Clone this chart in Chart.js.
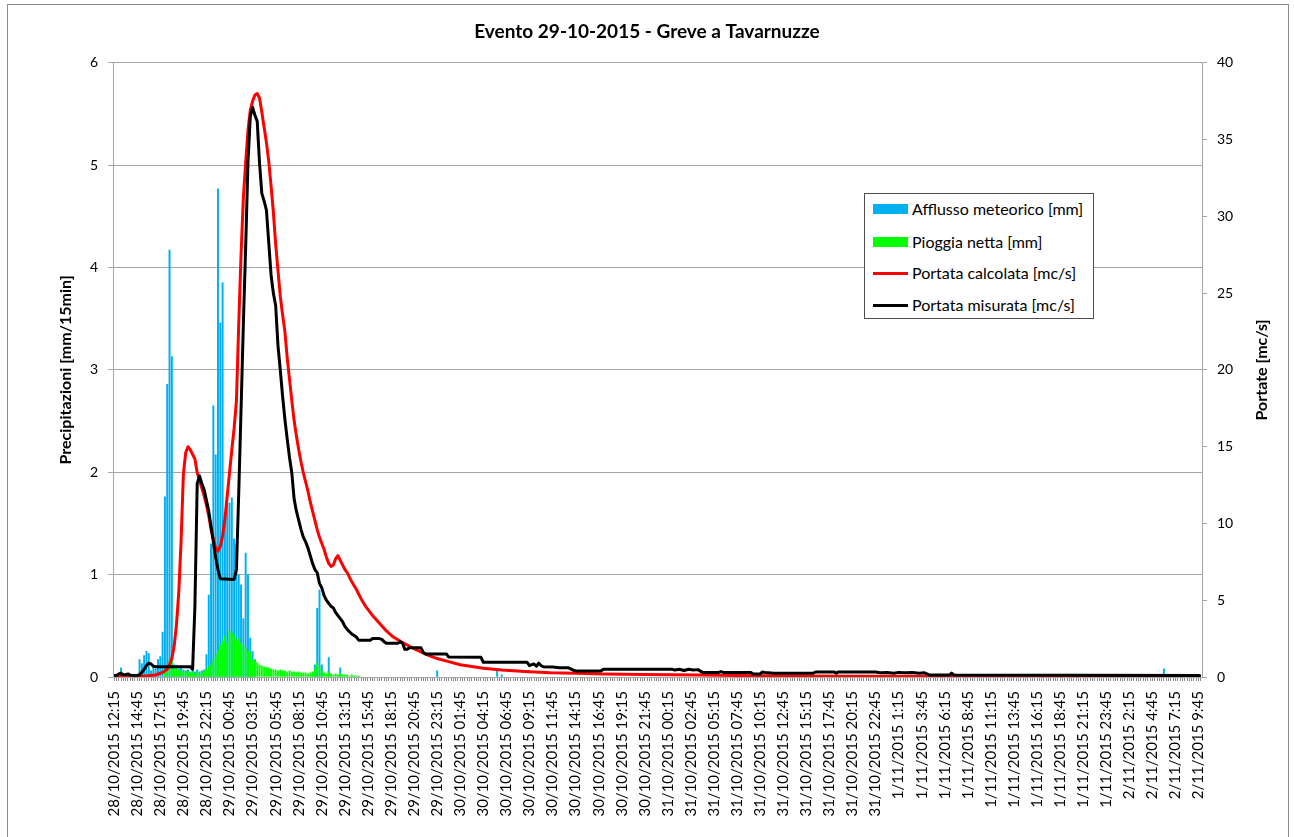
<!DOCTYPE html>
<html>
<head>
<meta charset="utf-8">
<title>Evento 29-10-2015 - Greve a Tavarnuzze</title>
<script src="https://cdn.jsdelivr.net/npm/chart.js@4.4.1/dist/chart.umd.min.js"></script>
<style>
  html, body { margin: 0; padding: 0; background: #fff; }
  body { width: 1294px; height: 837px; position: relative; overflow: hidden; font-family: Lato, 'Open Sans', sans-serif; }
  #frame { position: absolute; left: 7px; top: 4px; width: 1280px; height: 900px; border: 1px solid #8c8c8c; }
  #wrap { position: absolute; left: 0; top: 0; width: 1294px; height: 837px; }
  #legend { position: absolute; left: 864px; top: 193px; width: 228px; height: 124px; border: 1px solid #4d4d4d; background: #fff; }
  .row { position: absolute; left: 0; height: 20px; font-size: 16px; line-height: 20px; color: #000; white-space: nowrap; }
  .row .sw { position: absolute; left: 8px; width: 35px; }
  .row .tx { position: absolute; left: 47px; top: 0; }
</style>
</head>
<body>
<div id="frame"></div>
<div id="wrap"><canvas id="chart" width="1294" height="837"></canvas></div>
<div id="legend">
  <div class="row" style="top:5px"><span class="sw" style="top:5px;height:10px;background:#00b0f0"></span><span class="tx">Afflusso meteorico [mm]</span></div>
  <div class="row" style="top:38px"><span class="sw" style="top:5px;height:10px;background:#00ff00"></span><span class="tx">Pioggia netta [mm]</span></div>
  <div class="row" style="top:69px"><span class="sw" style="top:9px;height:3px;background:#ff0000"></span><span class="tx">Portata calcolata [mc/s]</span></div>
  <div class="row" style="top:101px"><span class="sw" style="top:9px;height:3px;background:#000"></span><span class="tx">Portata misurata [mc/s]</span></div>
</div>
<script>
// 15 minute steps starting 28/10/2015 12:15, one label every 10 steps
var nSteps = 472
var tickLabels = ['28/10/2015 12:15', '28/10/2015 14:45', '28/10/2015 17:15', '28/10/2015 19:45', '28/10/2015 22:15',
  '29/10/2015 00:45', '29/10/2015 03:15', '29/10/2015 05:45', '29/10/2015 08:15', '29/10/2015 10:45', '29/10/2015 13:15',
  '29/10/2015 15:45', '29/10/2015 18:15', '29/10/2015 20:45', '29/10/2015 23:15', '30/10/2015 01:45', '30/10/2015 04:15',
  '30/10/2015 06:45', '30/10/2015 09:15', '30/10/2015 11:45', '30/10/2015 14:15', '30/10/2015 16:45', '30/10/2015 19:15',
  '30/10/2015 21:45', '31/10/2015 00:15', '31/10/2015 02:45', '31/10/2015 05:15', '31/10/2015 07:45', '31/10/2015 10:15',
  '31/10/2015 12:45', '31/10/2015 15:15', '31/10/2015 17:45', '31/10/2015 20:15', '31/10/2015 22:45', '1/11/2015 1:15',
  '1/11/2015 3:45', '1/11/2015 6:15', '1/11/2015 8:45', '1/11/2015 11:15', '1/11/2015 13:45', '1/11/2015 16:15',
  '1/11/2015 18:45', '1/11/2015 21:15', '1/11/2015 23:45', '2/11/2015 2:15', '2/11/2015 4:45', '2/11/2015 7:15',
  '2/11/2015 9:45']
var leftTicks = [0, 1, 2, 3, 4, 5, 6]
var rightTicks = [0, 5, 10, 15, 20, 25, 30, 35, 40]

// [step, mm] only steps with rain
var afflusso = [[3, 0.09], [11, 0.17], [12, 0.13], [13, 0.21], [14, 0.25], [15, 0.23], [16, 0.06], [17, 0.12], [18, 0.08],
  [19, 0.17], [20, 0.2], [21, 0.44], [22, 1.76], [23, 2.86], [24, 4.17], [25, 3.13], [26, 0.12], [27, 0.1], [28, 0.08],
  [29, 0.1], [30, 0.07], [31, 0.06], [32, 0.07], [33, 0.05], [34, 0.06], [35, 0.05], [36, 0.07], [37, 0.05], [38, 0.06],
  [39, 0.07], [40, 0.22], [41, 0.8], [42, 1.3], [43, 2.65], [44, 2.17], [45, 4.77], [46, 3.46], [47, 3.85], [48, 1.5],
  [49, 1.8], [50, 1.7], [51, 1.75], [52, 1.35], [53, 1.3], [54, 1.0], [55, 0.9], [56, 0.57], [57, 1.21], [58, 1.0],
  [59, 0.38], [60, 0.25], [61, 0.17], [87, 0.12], [88, 0.67], [89, 0.85], [90, 0.12], [93, 0.19], [98, 0.09],
  [140, 0.06], [166, 0.06], [168, 0.02], [455, 0.08]]
var pioggiaNetta = [[22, 0.05], [23, 0.1], [24, 0.17], [25, 0.15], [26, 0.1], [27, 0.08], [28, 0.07], [29, 0.06], [30, 0.05],
  [31, 0.06], [32, 0.05], [33, 0.04], [34, 0.05], [35, 0.03], [36, 0.05], [37, 0.03], [38, 0.04], [39, 0.06], [40, 0.08],
  [41, 0.1], [42, 0.12], [43, 0.17], [44, 0.22], [45, 0.26], [46, 0.31], [47, 0.35], [48, 0.4], [49, 0.33], [50, 0.45],
  [51, 0.43], [52, 0.41], [53, 0.36], [54, 0.38], [55, 0.33], [56, 0.31], [57, 0.28], [58, 0.25], [59, 0.24], [60, 0.17],
  [61, 0.16], [62, 0.14], [63, 0.12], [64, 0.11], [65, 0.1], [66, 0.095], [67, 0.09], [68, 0.08], [69, 0.07], [70, 0.07],
  [71, 0.06], [72, 0.07], [73, 0.06], [74, 0.06], [75, 0.05], [76, 0.06], [77, 0.05], [78, 0.05], [79, 0.04], [80, 0.05],
  [81, 0.04], [82, 0.04], [83, 0.04], [84, 0.03], [85, 0.04], [86, 0.05], [87, 0.08], [88, 0.14], [89, 0.1], [90, 0.06],
  [91, 0.04], [92, 0.03], [93, 0.05], [94, 0.03], [95, 0.02], [96, 0.03], [97, 0.02], [98, 0.03], [99, 0.02], [100, 0.02],
  [101, 0.02], [102, 0.01], [103, 0.02], [104, 0.01], [105, 0.01], [106, 0.01]]

// [step, mc/s]
var portataCalcolata = [[0, 0.05], [12, 0.05], [18, 0.13], [21, 0.3], [23, 0.5], [24, 0.8], [25, 1.2], [26, 2.0], [27, 3.4],
  [28, 5.5], [29, 8.8], [30, 13.2], [31, 14.6], [32, 15.0], [33, 14.8], [34, 14.5], [35, 14.2], [36, 13.3], [37, 12.8],
  [38, 12.3], [39, 11.8], [40, 11.2], [41, 10.5], [42, 9.6], [43, 9.0], [44, 8.4], [45, 8.2], [46, 8.5], [47, 9.2],
  [48, 10.3], [49, 11.8], [50, 13.3], [51, 14.8], [52, 16.2], [53, 18.0], [54, 23.0], [55, 27.5], [56, 31.2], [57, 33.5],
  [58, 35.6], [59, 36.9], [60, 37.5], [61, 37.9], [62, 38.0], [63, 37.7], [64, 36.8], [65, 35.8], [66, 34.8], [67, 33.6],
  [68, 32.0], [69, 30.3], [70, 28.2], [71, 26.5], [72, 24.8], [73, 23.6], [74, 22.5], [75, 20.8], [76, 19.4], [77, 18.0],
  [78, 16.7], [79, 15.7], [80, 14.8], [81, 14.0], [82, 13.3], [83, 12.7], [84, 12.1], [85, 11.4], [86, 10.8], [87, 10.2],
  [88, 9.6], [89, 9.1], [90, 8.7], [91, 8.3], [92, 7.8], [93, 7.4], [94, 7.2], [95, 7.3], [96, 7.7], [97, 7.9], [98, 7.6],
  [99, 7.3], [100, 7.0], [101, 6.8], [103, 6.2], [105, 5.7], [107, 5.1], [109, 4.6], [112, 4.0], [115, 3.5], [118, 3.0],
  [121, 2.6], [125, 2.25], [128, 2.0], [132, 1.7], [136, 1.43], [140, 1.2], [145, 1.0], [150, 0.8], [155, 0.68],
  [160, 0.57], [168, 0.46], [178, 0.36], [189, 0.28], [200, 0.24], [212, 0.2], [230, 0.16], [254, 0.13], [270, 0.1],
  [290, 0.07], [330, 0.05], [400, 0.04], [471, 0.03]]
var portataMisurata = [[0, 0.1], [1, 0.1], [2, 0.2], [3, 0.25], [4, 0.15], [5, 0.15], [6, 0.2], [7, 0.12], [8, 0.1], [10, 0.1],
  [11, 0.15], [12, 0.3], [13, 0.5], [14, 0.75], [15, 0.9], [16, 0.85], [17, 0.7], [18, 0.67], [33, 0.67], [34, 0.5],
  [35, 4.6], [36, 12.6], [37, 13.1], [38, 12.6], [39, 12.2], [40, 11.5], [41, 10.8], [42, 9.8], [43, 8.8], [44, 7.8],
  [45, 7.0], [46, 6.4], [52, 6.35], [53, 7.0], [54, 12.0], [55, 17.4], [56, 23.0], [57, 28.0], [58, 33.5], [59, 36.5],
  [60, 37.1], [61, 36.6], [62, 36.2], [63, 33.5], [64, 31.5], [65, 31.0], [66, 30.4], [67, 28.3], [68, 26.2], [69, 25.0],
  [70, 24.2], [71, 21.6], [72, 20.0], [73, 18.3], [74, 16.8], [75, 15.5], [76, 14.3], [77, 13.3], [78, 11.6], [79, 10.8],
  [80, 10.2], [81, 9.6], [82, 9.1], [83, 8.8], [84, 8.4], [85, 7.9], [86, 7.4], [87, 7.0], [88, 6.8], [89, 6.1], [90, 5.8],
  [91, 5.3], [92, 5.0], [93, 4.8], [94, 4.6], [95, 4.5], [96, 4.2], [97, 4.0], [98, 3.8], [99, 3.6], [100, 3.3], [101, 3.1],
  [102, 2.95], [103, 2.8], [104, 2.7], [105, 2.6], [106, 2.4], [111, 2.4], [112, 2.5], [115, 2.5], [116, 2.45], [117, 2.3],
  [118, 2.2], [123, 2.2], [124, 2.3], [125, 2.2], [126, 1.8], [127, 1.8], [128, 1.9], [133, 1.9], [134, 1.6], [135, 1.5],
  [144, 1.5], [145, 1.3], [159, 1.28], [160, 0.96], [179, 0.96], [180, 0.74], [181, 0.8], [182, 0.85], [183, 0.7],
  [184, 0.9], [185, 0.75], [186, 0.67], [190, 0.65], [193, 0.6], [197, 0.6], [199, 0.45], [200, 0.39], [211, 0.39],
  [212, 0.5], [242, 0.5], [243, 0.45], [245, 0.5], [247, 0.42], [249, 0.5], [251, 0.45], [253, 0.48], [255, 0.3],
  [262, 0.3], [263, 0.35], [264, 0.3], [276, 0.3], [277, 0.2], [280, 0.2], [281, 0.33], [282, 0.3], [286, 0.24],
  [303, 0.24], [304, 0.33], [312, 0.33], [313, 0.25], [314, 0.33], [330, 0.33], [332, 0.28], [335, 0.3], [338, 0.25],
  [340, 0.3], [343, 0.28], [346, 0.3], [349, 0.25], [351, 0.28], [353, 0.15], [354, 0.13], [362, 0.13], [363, 0.25],
  [364, 0.13], [470, 0.1], [471, 0.05]]

function toPoints (pairs) {
  return pairs.map(function (p) { return { x: p[0], y: p[1] } })
}

var gridGrey = '#a6a6a6'
var tickFont = { family: 'Lato', size: 14 }

var rightTitle = {
  id: 'rightTitle',
  afterDraw: function (chart) {
    var c = chart.ctx
    var a = chart.chartArea
    c.save()
    c.translate(1262, (a.top + a.bottom) / 2)
    c.rotate(-Math.PI / 2)
    c.font = 'bold 16px Lato'
    c.fillStyle = '#000'
    c.textAlign = 'center'
    c.textBaseline = 'middle'
    c.fillText('Portate [mc/s]', 0, 0)
    c.restore()
  }
}

var chart = new Chart(document.getElementById('chart'), {
  type: 'bar',
  data: {
    datasets: [
      { type: 'line', label: 'Portata misurata [mc/s]', data: toPoints(portataMisurata), yAxisID: 'y2',
        borderColor: '#000000', borderWidth: 3, pointRadius: 0, borderJoinStyle: 'round', order: 0 },
      { type: 'line', label: 'Portata calcolata [mc/s]', data: toPoints(portataCalcolata), yAxisID: 'y2',
        borderColor: '#ff0000', borderWidth: 3, pointRadius: 0, borderJoinStyle: 'round', order: 1 },
      { label: 'Pioggia netta [mm]', data: toPoints(pioggiaNetta), yAxisID: 'y',
        backgroundColor: '#00ff00', barThickness: 1.3, grouped: false, order: 2 },
      { label: 'Afflusso meteorico [mm]', data: toPoints(afflusso), yAxisID: 'y',
        backgroundColor: '#00b0f0', barThickness: 1.3, grouped: false, order: 3 }
    ]
  },
  options: {
    responsive: false,
    animation: false,
    layout: { padding: 0 },
    plugins: {
      legend: { display: false },
      tooltip: { enabled: false },
      title: {
        display: true,
        text: 'Evento 29-10-2015 - Greve a Tavarnuzze',
        color: '#000',
        font: { family: 'Lato', size: 19, weight: 'bold' },
        padding: { top: 20, bottom: 20 }
      }
    },
    scales: {
      x: {
        type: 'linear',
        min: -0.5,
        max: nSteps - 0.5,
        offset: false,
        afterBuildTicks: function (scale) {
          var t = []
          for (var i = 0; i < nSteps; i++) t.push({ value: i })
          scale.ticks = t
        },
        afterFit: function (scale) { scale.height = 160 },
        ticks: {
          autoSkip: false,
          minRotation: 90,
          maxRotation: 90,
          padding: 10,
          color: '#000',
          font: { family: 'Lato', size: 15 },
          callback: function (v) { return v % 10 === 0 ? tickLabels[v / 10] : '' }
        },
        grid: { offset: false, drawOnChartArea: false, color: '#8c8c8c', tickLength: 4 },
        border: { color: gridGrey }
      },
      y: {
        position: 'left',
        min: 0,
        max: 6,
        afterBuildTicks: function (scale) { scale.ticks = leftTicks.map(function (v) { return { value: v } }) },
        afterFit: function (scale) { scale.width = 113 },
        ticks: { color: '#000', font: tickFont, padding: 10 },
        grid: { color: gridGrey, tickLength: 5 },
        border: { color: gridGrey },
        title: {
          display: true,
          text: 'Precipitazioni [mm/15min]',
          color: '#000',
          font: { family: 'Lato', size: 16, weight: 'bold' },
          padding: { top: 56 }
        }
      },
      y2: {
        position: 'right',
        min: 0,
        max: 40,
        afterBuildTicks: function (scale) { scale.ticks = rightTicks.map(function (v) { return { value: v } }) },
        afterFit: function (scale) { scale.width = 92 },
        ticks: { color: '#000', font: tickFont, padding: 10 },
        grid: { drawOnChartArea: false, color: gridGrey, tickLength: 5 },
        border: { color: gridGrey }
      }
    }
  },
  plugins: [rightTitle]
})
</script>
</body>
</html>
